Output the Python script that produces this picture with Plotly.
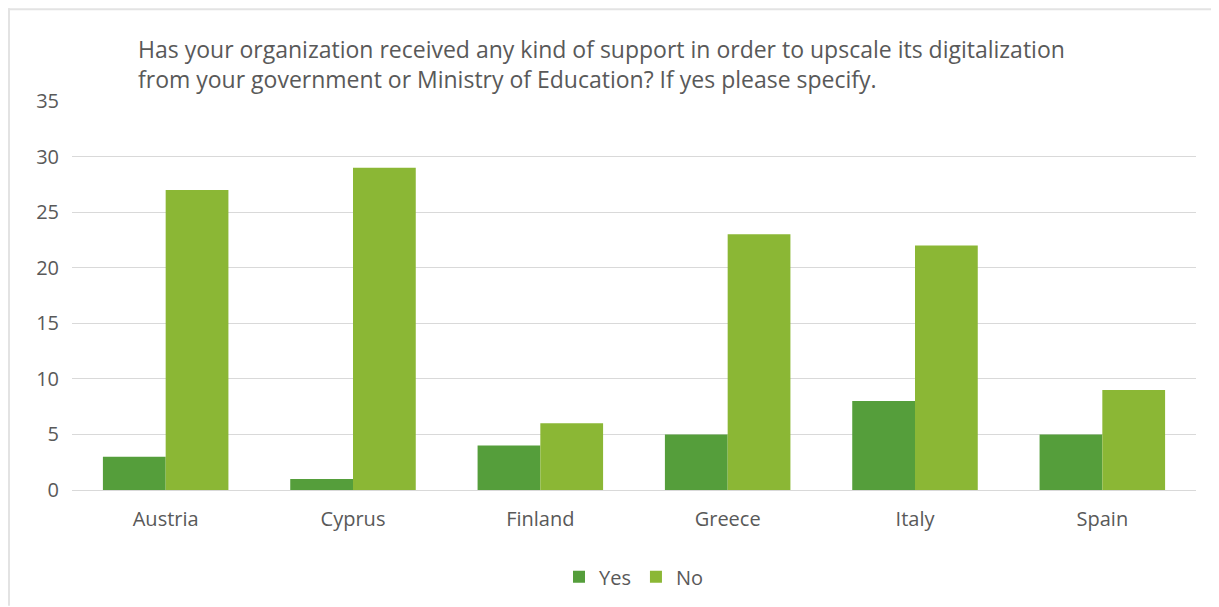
import plotly.graph_objects as go

countries = ["Austria", "Cyprus", "Finland", "Greece", "Italy", "Spain"]
yes_vals = [3, 1, 4, 5, 8, 5]
no_vals = [27, 29, 6, 23, 22, 9]
title_lines = ["Has your organization received any kind of support in order to upscale its digitalization",
               "from your government or Ministry of Education? If yes please specify."]

W, H = 1211, 599
L, T = 64, 93
pw, ph = 1124, 390
R, B = W - L - pw, H - T - ph

fig = go.Figure()
fig.add_trace(go.Bar(name="Yes", x=countries, y=yes_vals, marker=dict(color="#559E3B", line_width=0)))
fig.add_trace(go.Bar(name="No", x=countries, y=no_vals, marker=dict(color="#8BB735", line_width=0)))

font = "Open Sans, Noto Sans, sans-serif"
fig.update_layout(
    width=W, height=H,
    margin=dict(l=L, r=R, t=T, b=B),
    paper_bgcolor="white", plot_bgcolor="white",
    barmode="group", bargap=0.33, bargroupgap=0,
    font=dict(family=font, color="#595959", size=20),
    showlegend=True,
    legend=dict(orientation="h", x=0.5, xanchor="center", y=-0.22, yanchor="middle",
                font=dict(size=20, color="#595959"), itemwidth=30, traceorder="normal"),
    yaxis=dict(range=[0, 35], dtick=5, showgrid=True, gridcolor="#D9D9D9", gridwidth=1,
               zeroline=True, zerolinecolor="#D9D9D9", zerolinewidth=1,
               ticks="", ticklabelstandoff=12, showline=False, tickfont=dict(size=20)),
    xaxis=dict(showgrid=False, ticks="", showline=False, tickfont=dict(size=20), ticklabelstandoff=15),
)

fig.add_annotation(text="<br>".join(title_lines), xref="paper", yref="paper",
                   x=(128 - L) / pw, y=1 + (T - 55.5) / ph, xanchor="left", yanchor="middle",
                   showarrow=False, align="left", font=dict(size=23, color="#595959", family=font))

# light frame: top and left edges only
fig.add_shape(type="line", xref="paper", yref="paper",
              x0=-L / pw, x1=1 + R / pw, y0=1 + (T - 1) / ph, y1=1 + (T - 1) / ph,
              line=dict(color="#E3E3E3", width=2), layer="below")
fig.add_shape(type="line", xref="paper", yref="paper",
              x0=(1 - L) / pw, x1=(1 - L) / pw, y0=-B / ph, y1=1 + T / ph,
              line=dict(color="#E3E3E3", width=2), layer="below")

fig.write_html("out.html")
